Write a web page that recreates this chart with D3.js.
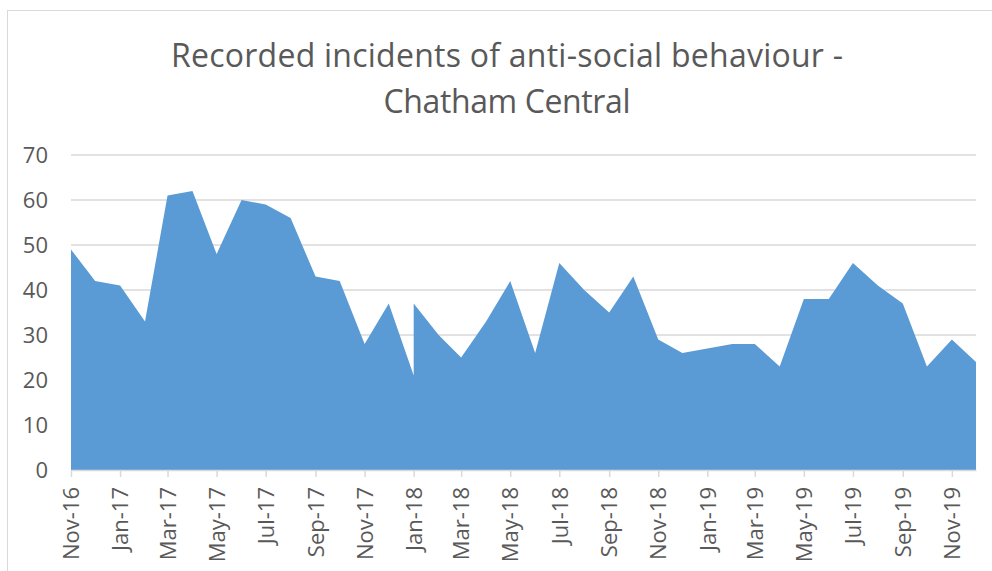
<!DOCTYPE html>
<html>
<head>
<meta charset="utf-8">
<script src="https://cdn.jsdelivr.net/npm/d3@7"></script>
<style>
  html, body { margin: 0; padding: 0; background: #fff; }
  svg { display: block; }
  text { font-family: "Open Sans", "Liberation Sans", sans-serif; fill: #595959; }
</style>
</head>
<body>
<svg id="chart" width="992" height="571"></svg>
<script>
// Monthly counts; January 2018 has two records in the source series.
const months = [
  "2016-11", "2016-12",
  "2017-01", "2017-02", "2017-03", "2017-04", "2017-05", "2017-06",
  "2017-07", "2017-08", "2017-09", "2017-10", "2017-11", "2017-12",
  "2018-01", "2018-01", "2018-02", "2018-03", "2018-04", "2018-05", "2018-06",
  "2018-07", "2018-08", "2018-09", "2018-10", "2018-11", "2018-12",
  "2019-01", "2019-02", "2019-03", "2019-04", "2019-05", "2019-06",
  "2019-07", "2019-08", "2019-09", "2019-10", "2019-11", "2019-12"
];
const incidents = [
  49, 42,
  41, 33, 61, 62, 48, 60,
  59, 56, 43, 42, 28, 37,
  21, 37, 30, 25, 33, 42, 26,
  46, 40, 35, 43, 29, 26,
  27, 28, 28, 23, 38, 38,
  46, 41, 37, 23, 29, 24
];
const yTicks = [0, 10, 20, 30, 40, 50, 60, 70];
const titleLines = ["Recorded incidents of anti-social behaviour -", "Chatham Central"];
const titleWidths = [672, 247];

const parseMonth = d3.timeParse("%Y-%m");
const data = months.map((m, i) => ({ date: parseMonth(m), value: incidents[i] }));

const svg = d3.select("#chart");
const margin = { left: 71, right: 16, top: 155, bottom: 101 };
const W = 992, H = 571;

// Chart frame
svg.append("rect")
  .attr("x", 7.5).attr("y", 10.5)
  .attr("width", 1000).attr("height", 600)
  .attr("fill", "none").attr("stroke", "#d9d9d9").attr("stroke-width", 1);

const x = d3.scaleTime()
  .domain([parseMonth("2016-11"), parseMonth("2019-12")])
  .range([margin.left, W - margin.right]);
const y = d3.scaleLinear()
  .domain([0, 70])
  .range([H - margin.bottom, margin.top]);

// Horizontal gridlines
svg.append("g")
  .selectAll("line")
  .data(yTicks.filter(t => t > 0))
  .join("line")
  .attr("x1", margin.left).attr("x2", W - margin.right)
  .attr("y1", d => y(d)).attr("y2", d => y(d))
  .attr("stroke", "#d9d9d9").attr("stroke-width", 1.5);

// Area
const area = d3.area()
  .x(d => x(d.date))
  .y0(y(0))
  .y1(d => y(d.value));
svg.append("path")
  .datum(data)
  .attr("d", area)
  .attr("fill", "#5b9bd5");

// Y axis labels
const yAxis = svg.append("g")
  .attr("transform", `translate(${margin.left},0)`)
  .call(d3.axisLeft(y).tickValues(yTicks).tickSize(0).tickPadding(23));
yAxis.select(".domain").remove();
yAxis.selectAll("text")
  .attr("font-size", "22px")
  .attr("fill", "#595959")
  .attr("font-family", "'Open Sans', sans-serif");

// X axis with bi-monthly ticks
const xTicks = d3.timeMonth.every(2).range(parseMonth("2016-11"), parseMonth("2019-12"));
const xAxis = svg.append("g")
  .attr("transform", `translate(0,${y(0)})`)
  .call(d3.axisBottom(x).tickValues(xTicks).tickFormat(d3.timeFormat("%b-%y")).tickSize(7).tickSizeOuter(0));
xAxis.select(".domain")
  .attr("stroke", "#d9d9d9").attr("stroke-width", 1.5);
xAxis.selectAll(".tick line")
  .attr("stroke", "#d9d9d9").attr("stroke-width", 1.5);
xAxis.selectAll("text")
  .attr("font-size", "22px")
  .attr("fill", "#595959")
  .attr("font-family", "'Open Sans', sans-serif")
  .attr("transform", "rotate(-90)")
  .attr("text-anchor", "end")
  .attr("x", -17)
  .attr("y", 0)
  .attr("dy", "0.35em");

// Title
svg.append("g")
  .selectAll("text")
  .data(titleLines)
  .join("text")
  .attr("x", 507)
  .attr("y", (d, i) => 67 + i * 46)
  .attr("text-anchor", "middle")
  .attr("font-size", "32px")
  .attr("textLength", (d, i) => titleWidths[i])
  .attr("lengthAdjust", "spacing")
  .text(d => d);
</script>
</body>
</html>
